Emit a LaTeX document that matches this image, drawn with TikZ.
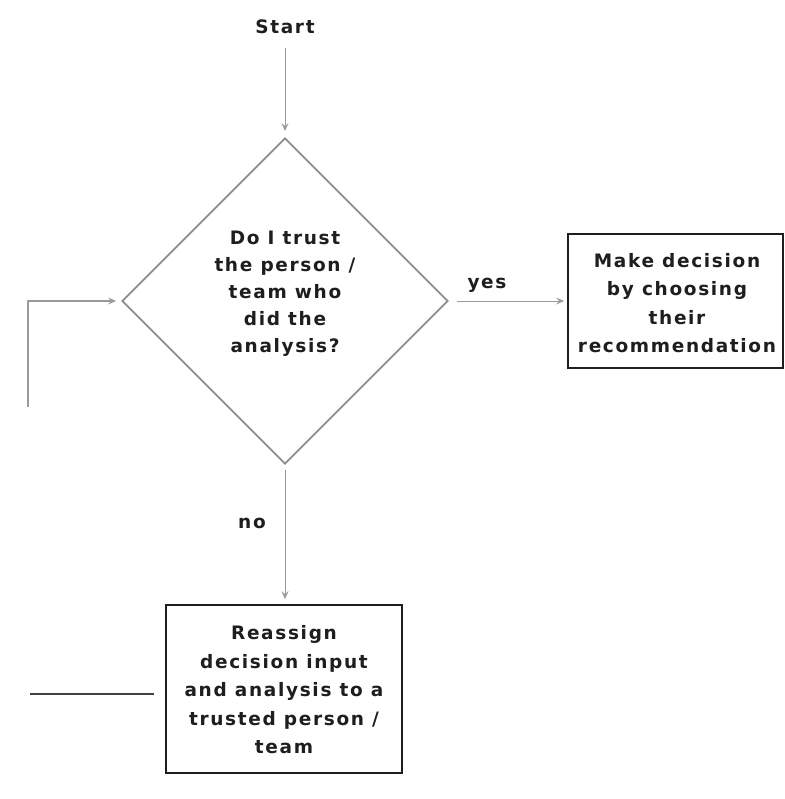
\documentclass[tikz,border=0pt]{standalone}
\usepackage{fontspec}
\setmainfont{DejaVu Sans}
\newfontfamily\flowfont[LetterSpace=9]{DejaVu Sans}
\usetikzlibrary{shapes.geometric,arrows.meta}
\definecolor{ink}{HTML}{1E1E1E}
\definecolor{edgegray}{HTML}{8C8C8C}
\definecolor{linkgray}{HTML}{9A9A9A}
\begin{document}
\begin{tikzpicture}[x=1pt,y=-1pt,
  lbl/.style={font=\flowfont\bfseries\fontsize{18.5}{28.5}\selectfont, text=ink, align=center, inner sep=0pt},
  box/.style={draw=ink, line width=1.8pt, rectangle, inner sep=0pt},
  decision/.style={draw=edgegray, line width=1.8pt, diamond, aspect=1, inner sep=0pt,
    minimum width=326pt, minimum height=326pt},
  link/.style={draw=linkgray, line width=1pt},
  flow/.style={link, -{Stealth[length=8pt,width=7pt,inset=3pt]}},
]
  \useasboundingbox[fill=white] (0,0) rectangle (784,799);

  % start label and the question
  \node[lbl] (start) at (285,27) {Start};
  \node[decision] (q) at (285,301) {};
  \node[lbl, font=\flowfont\bfseries\fontsize{18.5}{27}\selectfont] (qtext) at (285,294)
    {Do I trust\\the person /\\team who\\did the\\analysis?};

  % outcomes
  \node[box, minimum width=215pt, minimum height=134pt] (make) at (675.5,301) {};
  \node[lbl] (maketext) at (677,303) {Make decision\\by choosing\\their\\recommendation};

  \node[box, minimum width=236pt, minimum height=168pt] (re) at (284,689) {};
  \node[lbl] (retext) at (284,690) {Reassign\\decision input\\and analysis to a\\trusted person /\\team};

  % edge labels
  \node[lbl] (yes) at (487,285) {yes};
  \node[lbl] (no) at (252,523) {no};

  % connectors
  \draw[flow, shorten <=14pt, shorten >=6pt] (start.south) -- (q.north);
  \draw[flow, shorten <=8pt, shorten >=3pt] (q.east) -- (make.west);
  \draw[flow, shorten <=5pt, shorten >=5pt] (q.south) -- (q.south |- re.north);

  % loop back from the reassign step
  \coordinate (loopend) at (30,694);
  \coordinate (looptop) at (28,407);
  \draw[draw=ink!85, line width=1.3pt, shorten <=11pt] (re.west |- loopend) -- (loopend);
  \draw[flow, line width=1.6pt, shorten >=5pt] (looptop) |- (q.west);
\end{tikzpicture}
\end{document}
